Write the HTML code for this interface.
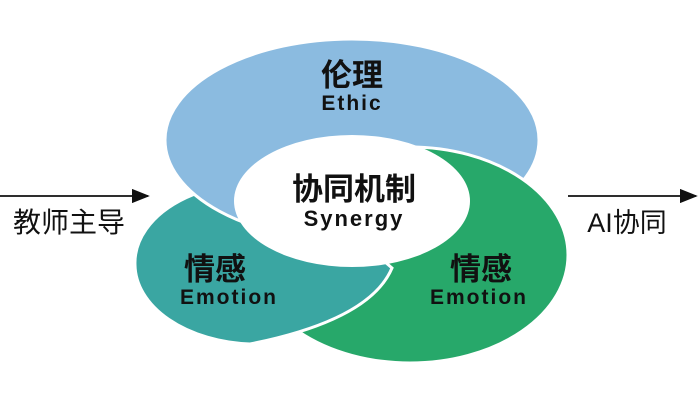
<!DOCTYPE html>
<html><head><meta charset="utf-8"><style>
body{margin:0;background:#fff;}
svg text{font-family:"Liberation Sans","Noto Sans CJK SC",sans-serif;fill:#111;}
</style></head><body>
<svg width="700" height="403" viewBox="0 0 700 403" xmlns="http://www.w3.org/2000/svg">
<defs>
<clipPath id="gc"><rect x="400" y="0" width="300" height="250"/></clipPath>
<marker id="ah" markerWidth="10" markerHeight="8" refX="9" refY="4" orient="auto"><path d="M0,0 L10,4 L0,8 z" fill="#111"/></marker>
</defs>
<ellipse cx="410" cy="255" rx="158" ry="108" fill="#27a86a" stroke="#fff" stroke-width="3"/>
<path d="M135,265 A122,80 0 0 1 300,188 L392,268 Q370,320 250,344 A122,80 0 0 1 135,265 Z" fill="#3aa6a2" stroke="#fff" stroke-width="3"/>
<ellipse cx="352" cy="140" rx="187" ry="101" fill="#8bbbe0" stroke="#fff" stroke-width="3"/>
<g clip-path="url(#gc)"><ellipse cx="410" cy="255" rx="158" ry="108" fill="#27a86a" stroke="#fff" stroke-width="3"/></g>
<ellipse cx="352" cy="201" rx="118" ry="66" fill="#fff"/>
<text x="352" y="86" font-size="31" font-weight="bold" text-anchor="middle">伦理</text>
<text x="352" y="110" font-size="21" font-weight="bold" letter-spacing="2" text-anchor="middle">Ethic</text>
<text x="354" y="200" font-size="31" font-weight="bold" text-anchor="middle">协同机制</text>
<text x="354" y="226" font-size="22" font-weight="bold" letter-spacing="2" text-anchor="middle">Synergy</text>
<text x="215" y="280" font-size="31" font-weight="bold" text-anchor="middle">情感</text>
<text x="229" y="304" font-size="21" font-weight="bold" letter-spacing="2" text-anchor="middle">Emotion</text>
<text x="481" y="280" font-size="31" font-weight="bold" text-anchor="middle">情感</text>
<text x="479" y="304" font-size="21" font-weight="bold" letter-spacing="2" text-anchor="middle">Emotion</text>
<line x1="0" y1="196" x2="148" y2="196" stroke="#111" stroke-width="1.8" marker-end="url(#ah)"/>
<line x1="568" y1="196" x2="696" y2="196" stroke="#111" stroke-width="1.8" marker-end="url(#ah)"/>
<text x="69" y="232" font-size="28" text-anchor="middle">教师主导</text>
<text x="627" y="232" font-size="27" text-anchor="middle">AI协同</text>
</svg>
</body></html>
